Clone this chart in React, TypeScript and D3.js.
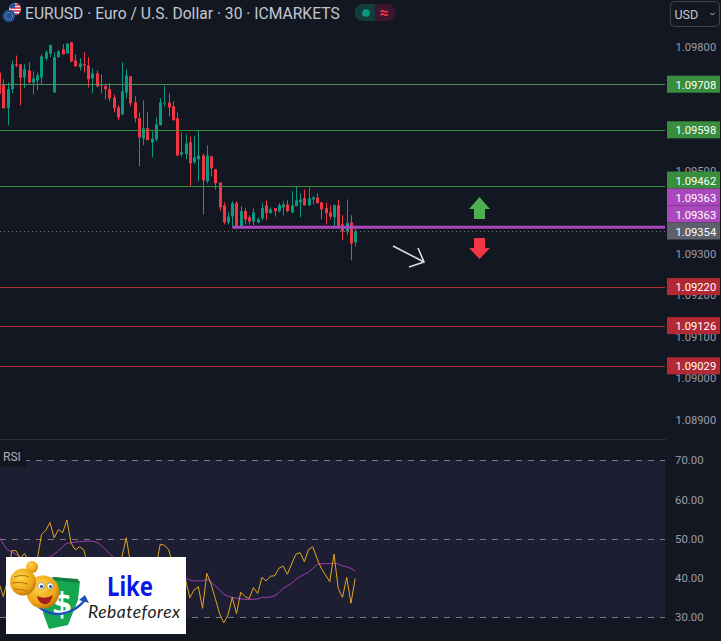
import React from "react";
import * as d3 from "d3";

// Prices are stored in points (price x 100000). First candle index is -1 (cut by the left edge).
const highs = [109736,109720,109712,109765,109777,109756,109756,109761,109739,109736,109780,109790,109804,109785,109790,109804,109806,109809,109780,109770,109785,109773,109746,109741,109732,109710,109710,109683,109657,109761,109744,109727,109679,109640,109669,109640,109594,109628,109674,109704,109686,109667,109640,109592,109587,109582,109582,109597,109541,109561,109536,109503,109471,109423,109399,109426,109426,109414,109409,109392,109409,109387,109421,109428,109411,109409,109421,109426,109428,109450,109462,109445,109454,109459,109438,109445,109423,109423,109416,109418,109430,109392,109430,109392,109361];
const opens = [109736,109708,109650,109696,109756,109756,109724,109741,109712,109717,109724,109770,109782,109688,109773,109792,109782,109809,109765,109749,109756,109753,109722,109734,109708,109703,109696,109676,109652,109635,109688,109727,109664,109626,109577,109602,109568,109575,109609,109662,109664,109655,109626,109539,109539,109568,109520,109527,109536,109474,109534,109503,109471,109416,109375,109389,109421,109364,109402,109387,109377,109375,109385,109416,109397,109409,109402,109411,109418,109399,109414,109423,109433,109416,109430,109435,109423,109409,109399,109387,109416,109370,109353,109375,109327];
const closes = [109685,109650,109696,109756,109753,109724,109744,109712,109722,109729,109775,109785,109802,109773,109787,109780,109806,109763,109751,109758,109753,109720,109734,109703,109705,109696,109674,109650,109628,109691,109729,109662,109626,109580,109602,109573,109577,109611,109664,109664,109652,109621,109536,109544,109565,109517,109532,109536,109476,109536,109505,109469,109411,109375,109389,109421,109364,109402,109382,109377,109399,109382,109409,109397,109406,109402,109416,109418,109402,109416,109428,109430,109416,109433,109435,109421,109406,109397,109389,109416,109365,109353,109373,109324,109353];
const lows = [109670,109650,109609,109686,109749,109657,109698,109710,109683,109693,109708,109765,109773,109688,109773,109780,109782,109761,109751,109741,109736,109700,109686,109700,109686,109671,109667,109640,109621,109635,109674,109655,109616,109510,109561,109573,109532,109570,109609,109655,109630,109621,109536,109534,109527,109462,109515,109474,109394,109469,109486,109454,109402,109370,109370,109364,109364,109362,109370,109370,109368,109373,109380,109380,109397,109389,109399,109392,109399,109397,109414,109387,109416,109414,109418,109421,109382,109370,109382,109364,109364,109332,109344,109283,109317];

const rsiValues = [38.7,35.3,39.5,47.0,47.0,45.0,46.3,44.2,38.7,44.6,51.1,52.1,54.2,50.3,52.4,51.6,54.8,48.9,47.2,48.0,47.2,42.9,43.8,41.2,42.1,41.2,39.5,37.8,36.1,45.5,50.3,43.8,38.7,37.8,36.1,37.8,42.1,42.9,48.6,48.4,47.3,43.3,37.8,38.7,39.5,35.0,37.0,37.8,32.3,41.2,38.5,34.8,31.0,28.6,30.6,35.1,31.0,36.4,35.3,34.8,37.6,36.1,40.2,39.3,40.5,40.6,42.5,43.1,41.0,43.6,46.1,46.5,44.2,47.3,48.0,45.0,42.5,40.8,39.1,46.1,37.4,35.1,40.2,33.6,39.9];
const rsiMaValues = [50.5,48.7,47.2,46.7,46.1,45.3,44.8,44.4,44.4,44.8,45.0,45.2,45.4,46.1,46.9,48.0,48.9,49.0,49.2,49.3,49.4,49.4,49.4,49.2,48.4,47.4,46.3,45.3,44.6,44.4,44.2,43.6,43.1,42.5,42.1,41.6,41.2,41.0,41.0,40.9,40.8,40.6,40.5,40.4,40.0,39.5,39.3,39.3,39.3,39.7,39.1,38.0,37.0,35.9,35.4,35.1,34.9,34.7,34.6,34.6,34.6,34.7,35.1,35.1,35.2,35.5,36.3,37.4,38.0,38.7,39.7,40.4,41.0,41.5,42.5,43.5,43.7,43.7,43.7,43.8,43.6,43.1,42.9,42.5,41.8];

const priceTicks = [1.098, 1.095, 1.093, 1.092, 1.091, 1.09, 1.089];
const rsiTicks = [70, 60, 50, 40, 30];
const rsiBands = [70, 50, 30];

const greenLevels = [1.09708, 1.09598, 1.09462];
const redLevels = [1.0922, 1.09126, 1.09029];
const entryLevels = [1.09363, 1.09363];
const lastPrice = 1.09354;

const title = "EURUSD · Euro / U.S. Dollar · 30 · ICMARKETS";

const BG = "#131722";
const UP = "#089981";
const DOWN = "#f23645";
const TICK = "#9a9da6";
const PURPLE = "#ab47bc";
const FONT = "Roboto, sans-serif";

const W = 721;
const H = 641;
const CHART_R = 665;

const x = d3.scaleLinear().domain([-1, 83]).range([-0.94, 355.2]);
const yP = d3.scaleLinear().domain([1.0991, 1.08871]).range([0.4, 431.4]);
const yR = d3.scaleLinear().domain([70, 30]).range([460.4, 617.4]);

const fmtP = d3.format(".5f");
const fmtR = d3.format(".2f");
const snap = (v: number) => Math.round(v) + 0.5;

type Tag = { value: number; fill: string };
const tags: Tag[] = [
  ...greenLevels.map((value) => ({ value, fill: "#388e3c" })),
  ...entryLevels.map((value) => ({ value, fill: PURPLE })),
  { value: lastPrice, fill: "#5d606b" },
  ...redLevels.map((value) => ({ value, fill: "#b22833" })),
];
const TAG_H = 17;
// stack the overlapping tags upwards from the bottom
const tagY: number[] = [];
for (let i = tags.length - 1; i >= 0; i--) {
  const t = yP(tags[i].value);
  tagY[i] = i === tags.length - 1 ? t : Math.min(t, tagY[i + 1] - TAG_H);
}

const rsiLine = d3
  .line<number>()
  .x((_, i) => x(i - 1))
  .y((d) => yR(d));

function Logo() {
  return (
    <g>
      <defs>
        <radialGradient id="face" cx="40%" cy="35%" r="70%">
          <stop offset="0%" stopColor="#ffd84a" />
          <stop offset="70%" stopColor="#eda416" />
          <stop offset="100%" stopColor="#b86f0c" />
        </radialGradient>
      </defs>
      <rect x={6} y={557} width={180} height={77} fill="#ffffff" />
      <polygon points="55,577 80,581 78,600 68,625 49,629 43,613 47,590" fill="#14a651" />
      <polygon points="52,577 78,579 79,583 53,580" fill="#0e7d3f" />
      <text x={62} y={614} fontFamily="DejaVu Sans, sans-serif" fontWeight={700} fontSize={30} fill="#ffffff" textAnchor="middle">$</text>
      <path d="M39,607 C52,618 72,616 85,600" fill="none" stroke="#1d4fb8" strokeWidth={2.5} />
      <polygon points="79,600 85,595 89,603" fill="#1d4fb8" />
      <circle cx={32} cy={567} r={6} fill="url(#face)" />
      <circle cx={43} cy={592} r={16.5} fill="url(#face)" />
      <ellipse cx={23} cy={582} rx={13} ry={13.5} fill="url(#face)" />
      <path d="M14,577 q9,-3 15,0 M12,583 q9,-2 16,1 M14,589 q7,0 13,2" fill="none" stroke="#b86f0c" strokeWidth={1} />
      <circle cx={41} cy={586} r={3.4} fill="#fff" stroke="#555" strokeWidth={0.5} />
      <circle cx={50} cy={586} r={3.2} fill="#fff" stroke="#555" strokeWidth={0.5} />
      <circle cx={41.5} cy={586.5} r={1.6} fill="#1b4d8a" />
      <circle cx={50.5} cy={586.5} r={1.5} fill="#1b4d8a" />
      <path d="M37,596 Q45,600 53,595 Q50,606 43,604 Q38,602 37,596Z" fill="#a3201c" />
      <text x={107} y={596} fontFamily="Noto Sans, sans-serif" fontWeight={700} fontSize={26} fill="#0a18e6" textLength={46} lengthAdjust="spacingAndGlyphs">Like</text>
      <text x={88} y={618} fontFamily="Lato, sans-serif" fontStyle="italic" fontSize={17.5} letterSpacing={0.5} fill="#1c1c1c">Rebateforex</text>
    </g>
  );
}

export default function App() {
  const ohlc = opens.map((o, i) => ({ o, c: closes[i], h: highs[i], l: lows[i], i: i - 1 }));
  return (
    <svg
      width={W}
      height={H}
      viewBox={`0 0 ${W} ${H}`}
      style={{ position: "absolute", left: 0, top: 0, display: "block", background: BG }}
      fontFamily={FONT}
    >
      {/* candles */}
      {ohlc.map((d) => {
        const col = d.c >= d.o ? UP : DOWN;
        const cx = Math.round(x(d.i));
        const top = yP(Math.max(d.o, d.c) / 1e5);
        const bot = yP(Math.min(d.o, d.c) / 1e5);
        return (
          <g key={d.i} fill={col}>
            <rect x={cx} y={yP(d.h / 1e5)} width={1} height={yP(d.l / 1e5) - yP(d.h / 1e5)} />
            <rect x={cx - 1} y={top} width={3} height={Math.max(1, bot - top)} />
          </g>
        );
      })}

      {/* horizontal levels */}
      {greenLevels.map((v, i) => (
        <line key={v} x1={0} x2={CHART_R} y1={snap(yP(v))} y2={snap(yP(v))} stroke={i === 0 ? "#4b8f5a" : "#388e3c"} strokeWidth={1} />
      ))}
      {redLevels.map((v) => (
        <line key={v} x1={0} x2={CHART_R} y1={snap(yP(v))} y2={snap(yP(v))} stroke="#b22833" strokeWidth={1} />
      ))}
      <line x1={0} x2={CHART_R} y1={snap(yP(lastPrice))} y2={snap(yP(lastPrice))} stroke="#787b86" strokeWidth={1} strokeDasharray="1 3" />
      <line x1={x(54)} x2={CHART_R} y1={yP(entryLevels[0])} y2={yP(entryLevels[0])} stroke={PURPLE} strokeWidth={3} />

      {/* drawn arrows */}
      <polygon points="479.5,197 490,209 485,209 485,219 474,219 474,209 469,209" fill="#4caf50" />
      <polygon points="479.5,259 490,248 485,248 485,238 474,238 474,248 469,248" fill={DOWN} />
      <path d="M393,246 L424,262 M418,248 L424,262 L409,267" fill="none" stroke="#d8dbe3" strokeWidth={1.6} />

      {/* pane separator */}
      <rect x={0} y={439} width={W} height={1} fill="#2a2e39" />

      {/* RSI pane */}
      <rect x={0} y={yR(70)} width={CHART_R} height={yR(30) - yR(70)} fill="#1e1e33" />
      {rsiBands.map((v) => (
        <line key={v} x1={0} x2={CHART_R} y1={snap(yR(v))} y2={snap(yR(v))} stroke="#787b86" strokeWidth={1} strokeDasharray="6 6" />
      ))}
      <rect x={0} y={448} width={26} height={19} fill={BG} />
      <text x={3} y={461} fontSize={12} fill="#a9acb5">RSI</text>
      <path d={rsiLine(rsiMaValues) ?? ""} fill="none" stroke="#a03fb0" strokeWidth={1} />
      <path d={rsiLine(rsiValues) ?? ""} fill="none" stroke="#e2a520" strokeWidth={1} />

      {/* price axis */}
      <rect x={CHART_R + 1} y={0} width={W - CHART_R - 1} height={H} fill={BG} />
      {priceTicks.map((v) => (
        <text key={v} x={675.5} y={yP(v) + 4.5} fontSize={11.2} fill={TICK}>{fmtP(v)}</text>
      ))}
      {rsiTicks.map((v) => (
        <text key={v} x={675} y={yR(v) + 4} fontSize={11.4} fill={TICK}>{fmtR(v)}</text>
      ))}
      {tags.map((t, i) => (
        <g key={i}>
          <rect x={667} y={tagY[i] - TAG_H / 2} width={53} height={TAG_H} fill={t.fill} />
          <text x={675.5} y={tagY[i] + 4.5} fontSize={11.2} fill="#ffffff">{fmtP(t.value)}</text>
        </g>
      ))}

      {/* header */}
      <circle cx={15} cy={9} r={6} fill="#e8e8ee" />
      <path d="M11,5h9M10,8h11M10,11h11M12,14h6" stroke="#d8283a" strokeWidth={1.4} />
      <path d="M15,3 A6,6 0 0 0 9.3,8 H15Z" fill="#2b4da0" />
      <circle cx={9} cy={16} r={6.2} fill="#1f4f99" />
      <circle cx={9} cy={16} r={3.6} fill="none" stroke="#d9b93c" strokeWidth={1} strokeDasharray="1 1.3" />
      <text x={25} y={19} fontSize={15.65} fill="#c4c7d0">{title}</text>
      <path d="M363,4 H375 V21 H363 A8.5,8.5 0 0 1 363,4Z" fill="#123d3b" />
      <path d="M375,4 H387 A8.5,8.5 0 0 1 387,21 H375Z" fill="#3f1430" />
      <circle cx={366} cy={13} r={3.8} fill={UP} />
      <text x={384} y={18} fontSize={16} fontWeight={700} fill={DOWN} textAnchor="middle">≈</text>
      <rect x={670.5} y={1.5} width={49} height={25} rx={4} fill="none" stroke="#434651" />
      <text x={674.5} y={18.5} fontSize={12.5} fill="#c4c7d0">USD</text>
      <path d="M710.5,13 L712.5,15 L714.5,13" fill="none" stroke="#c4c7d0" strokeWidth={1} />

      <Logo />
    </svg>
  );
}
